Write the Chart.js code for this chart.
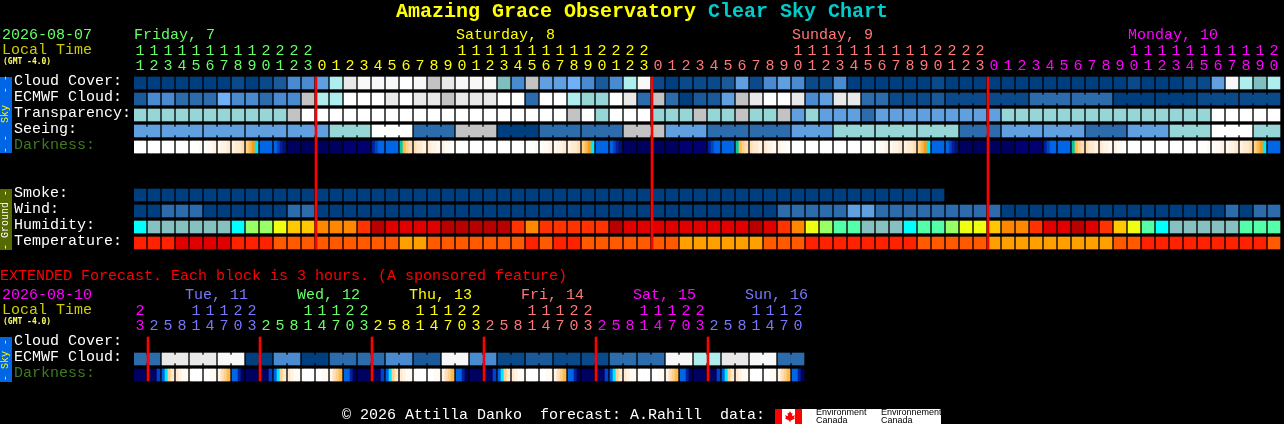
<!DOCTYPE html>
<html>
<head>
<meta charset="utf-8">
<title>Clear Sky Chart</title>
<script src="https://cdn.jsdelivr.net/npm/chart.js@4"></script>
<style>
html, body { margin: 0; background: #000; width: 1284px; height: 424px; overflow: hidden; }
canvas { position: absolute; left: 0; top: 0; }
.t { position: absolute; font: 15px/16px "Liberation Mono", monospace; white-space: pre; color: #fff; }
.tiny { font: bold 8px/9px "DejaVu Sans Mono", monospace; color: #ffff66; }
.title { font: bold 20px/24px "Liberation Mono", monospace; left: 396px; top: 0; color: #ffff00; }
.bar { position: absolute; left: 0; width: 12px; }
.bar span { position: absolute; left: 0; top: 0; width: 12px; height: 100%; text-align: center; writing-mode: vertical-rl;
  transform: rotate(180deg); font: 10px/12px "Liberation Mono", monospace; white-space: pre; }
.logo { position: absolute; left: 775px; top: 409px; width: 166px; height: 15px; background: #fff; overflow: hidden; }
.logo i { position: absolute; top: 0; width: 7px; height: 15px; background: #f00; }
.logo b { position: absolute; left: 10px; top: 2px; width: 10px; height: 11px; background: #f00;
  clip-path: polygon(50% 0, 62% 20%, 75% 15%, 70% 45%, 100% 38%, 90% 60%, 100% 68%, 55% 88%, 55% 100%, 45% 100%, 45% 88%, 0 68%, 10% 60%, 0 38%, 30% 45%, 25% 15%, 38% 20%); }
.logo u { position: absolute; text-decoration: none; top: 0; font: 9px/7.5px "Liberation Sans", sans-serif; color: #000; white-space: pre; }
</style>
</head>
<body>
<canvas id="chart" width="1284" height="424"></canvas>

<div class="t title">Amazing Grace Observatory <span style="color:#00cccc">Clear Sky Chart</span></div>

<div class="t" style="left:2px;top:28px;color:#66ff66">2026-08-07</div>
<div class="t" style="left:2px;top:43px;color:#cccc00">Local Time</div>
<div class="t tiny" style="left:3px;top:57px">(GMT -4.0)</div>
<div class="t" style="left:134px;top:28px;color:#66ff66">Friday, 7</div>
<div class="t" style="left:456px;top:28px;color:#ffff00">Saturday, 8</div>
<div class="t" style="left:792px;top:28px;color:#ff7777">Sunday, 9</div>
<div class="t" style="left:1128px;top:28px;color:#ff00ff">Monday, 10</div>

<div class="bar" style="top:77px;height:76px;background:#0066e6;color:#ffff00"><span>- -  Sky  - -</span></div>
<div class="bar" style="top:189px;height:61px;background:#556b00;color:#fff"><span>- Ground -</span></div>
<div class="bar" style="top:337px;height:45px;background:#0066e6;color:#ffff00"><span>- Sky -</span></div>

<div class="t" style="left:0;top:269px;color:#ff0000">EXTENDED Forecast. Each block is 3 hours. (A sponsored feature)</div>
<div class="t" style="left:2px;top:288px;color:#ff00ff">2026-08-10</div>
<div class="t" style="left:2px;top:303px;color:#cccc00">Local Time</div>
<div class="t tiny" style="left:3px;top:317px">(GMT -4.0)</div>
<div class="t" style="left:185px;top:288px;color:#7777ff">Tue, 11</div>
<div class="t" style="left:297px;top:288px;color:#66ff66">Wed, 12</div>
<div class="t" style="left:409px;top:288px;color:#ffff00">Thu, 13</div>
<div class="t" style="left:521px;top:288px;color:#ff7777">Fri, 14</div>
<div class="t" style="left:633px;top:288px;color:#ff00ff">Sat, 15</div>
<div class="t" style="left:745px;top:288px;color:#7777ff">Sun, 16</div>

<div class="t" style="left:342px;top:408px">© 2026 Attilla Danko  forecast: A.Rahill  data:</div>
<div class="logo">
  <i style="left:0"></i><i style="left:20px"></i><b></b>
  <u style="left:41px">Environment
Canada</u>
  <u style="left:106px">Environnement
Canada</u>
</div>

<script>
// hours along the top, one per block
const hours = [11,12,13,14,15,16,17,18,19,20,21,22,23,
  0,1,2,3,4,5,6,7,8,9,10,11,12,13,14,15,16,17,18,19,20,21,22,23,
  0,1,2,3,4,5,6,7,8,9,10,11,12,13,14,15,16,17,18,19,20,21,22,23,
  0,1,2,3,4,5,6,7,8,9,10,11,12,13,14,15,16,17,18,19,20];
const extHours = [23,
  2,5,8,11,14,17,20,23, 2,5,8,11,14,17,20,23, 2,5,8,11,14,17,20,23,
  2,5,8,11,14,17,20,23, 2,5,8,11,14,17,20,23, 2,5,8,11,14,17,20];
const midnights = [13, 37, 61];
const extMidnights = [1, 9, 17, 25, 33, 41];
const dayColors = ['#66ff66', '#ffff00', '#ff7777', '#ff00ff'];
const extDayColors = ['#ff00ff', '#7777ff', '#66ff66', '#ffff00', '#ff7777', '#ff00ff', '#7777ff'];

// colour levels
const skyColors = ['#003f7f','#0a4a8a','#1a5a9a','#2c6cac','#4a8ad0','#60a0e0','#70b0f8',
  '#80bfbf','#96d6d6','#aeeeee','#c3c3c3','#e9e9e9','#f8f8f8','#ffffff'];
const humidityColors = ['#00ffff','#86c0c0','#55ffaa','#99ff66','#eeff11','#ffc800','#ff8800','#ff3300','#e00000','#b80000'];
const temperatureColors = ['#ffa000','#ff5a00','#ff2200','#e00000'];
const darknessColors = { a:'#ffffff', b:'#fffaf3', c:'#fff3e4', d:'#ffeacf', e:'#ffdfb6', f:'#ffd08c', g:'#ffb84a', h:'#ff9a10',
  k:'#00e8ff', s:'#00c8a0', m:'#0066e6', n:'#0044c4', o:'#002299', p:'#000f70', q:'#000060', r:'#000070' };

const cloudCover = [0,0,0,0,0,0,0,1,0,1, 2,4,4,5,9,11,12,12,12,13, 12,10,11,12,12,12,7,4,10,5,
  5,6,4,2,4,9,12,1,0,1, 1,1,2,5,1,4,5,4,1,1, 4,0,0,0,0,0,0,1,0,0,
  0,0,0,0,0,0,0,0,0,0, 0,1,0,0,0,1,1,5,12,9, 7,9];
const ecmwfCloud = [2,4,4,3,3,3,6,4,4,3, 4,4,10,9,9,13,13,13,11,13, 11,11,10,11,11,11,13,13,3,13,
  13,9,8,8,13,11,3,10,3,0, 2,2,5,10,11,13,13,11,4,5, 11,11,3,3,1,1,1,2,1,1,
  1,1,1,1,3,3,3,3,3,3, 0,0,0,0,0,0,1,1,1,1, 1,1];
const ecmwfBlocks = [1,1,1,1,1,1,1,1,1,1, 1,1,1,1,1,1,1,1,1,1, 1,1,1,1,1,1,1,1,1,1,
  1,1,1,1,1,1,1,1,1,1, 1,1,1,1,1,1,1,1,1,1, 1,1,1,1,1,1,1,1, 3,3,3,3,3,3,3,3];
const transparency = [8,8,8,8,8,8,8,8,8,8, 8,10,13,13,13,13,13,13,13,13, 13,13,13,13,13,13,13,13,13,13,
  13,10,13,8,13,13,13,8,8,8, 10,8,8,10,8,8,10,5,8,5, 5,5,3,5,5,5,5,5,5,5,
  5,5,8,8,8,8,8,8,8,8, 8,8,8,8,8,8,8,13,13,13, 13,13];
const seeing = [5,5,5,5,5,5,5,5,5,5, 5,5,5,5,8,8,8,13,13,13, 3,3,3,10,10,10,0,0,0,3,
  3,3,3,3,3,10,10,10,5,5, 5,3,3,3,3,3,3,5,5,5, 8,8,8,8,8,8,8,8,8,3,
  3,3,5,5,5,5,5,5,3,3, 3,5,5,5,8,8,8,13,13,13, 8,8];
const seeingBlocks = [2,3,3,3,3,3,3,3,3,3,3,3,3,3,3,3,3,3,3,3,3,3,3,3,3,3,3,2];
const darkness = ['aaaa','aaaa','aaaa','aaaa','aaab','abbc','bccd','cdde','fghk','mmmm','mnop','qqqq','qqqq','qqqq','qqqq','rrrr','rrrr',
  'onmm','mmmm','sgfe','eddc','dccb','cbba','aaaa','aaaa','aaaa','aaaa','aaaa','aaab','abbc','bccd','cdde','fghk','mmmm','mnop','qqqq','qqqq','qqqq','qqqq','rrrr','rrrr',
  'onmm','mmmm','sgfe','eddc','dccb','cbba','aaaa','aaaa','aaaa','aaaa','aaaa','aaab','abbc','bccd','cdde','fghk','mmmm','mnop','qqqq','qqqq','qqqq','qqqq','rrrr','rrrr',
  'onmm','mmmm','sgfe','eddc','dccb','cbba','aaaa','aaaa','aaaa','aaaa','aaaa','aaab','abbc','bccd','cdde','fghk','mmmm'];
const smoke = [0,0,0,0,0,0,0,0,0,0, 0,0,0,0,0,0,0,0,0,0, 0,0,0,0,0,0,0,0,0,0,
  0,0,0,0,0,0,0,0,0,0, 0,0,0,0,0,0,0,0,0,0, 0,0,0,0,0,0,0,0];
const wind = [0,0,3,3,3,0,0,0,0,0, 0,3,3,0,0,0,0,0,0,0, 0,0,0,0,0,0,0,0,0,0,
  0,0,0,0,0,0,0,0,0,0, 0,0,0,0,0,0,3,3,3,3, 3,5,5,3,3,3,3,3,3,3,
  3,3,0,0,0,0,0,0,0,0, 0,0,0,0,0,0,0,0,3,0, 3,3];
const humidity = [0,1,1,1,1,1,1,0,3,3, 4,5,5,6,6,6,7,9,8,8, 8,8,9,9,9,9,9,7,6,7,
  7,7,7,7,9,8,8,8,8,8, 8,8,8,8,9,8,7,6,4,3, 2,2,1,1,1,0,2,2,3,4,
  4,5,6,6,7,8,8,9,8,7, 5,4,2,0,1,1,1,1,1,2, 2,2];
const temperature = [2,2,2,3,3,3,3,2,2,2, 1,1,1,1,1,1,1,1,1,0, 0,1,1,1,1,1,1,1,2,1,
  2,2,1,1,1,1,1,1,1,0, 0,0,0,0,0,1,1,1,2,2, 2,2,2,2,2,2,1,1,1,1,
  1,0,0,0,0,0,0,0,0,0, 1,1,2,2,2,2,2,2,2,2, 2,1];

const extCloud = [3,3,11,11,11,11,12,12,0,0,4,4,0,0,3,3,3,3,4,4,2,2,12,12,4,4,1,1,2,2,1,1,1,1,3,3,3,3,12,12,9,9,11,11,12,12,3,3];
const extCloudBlocks = [2,2,2,2,2,2,2,2,2,2,2,2,2,2,2,2,2,2,2,2,2,2,2,2];
const extDarkness = ['qqqq','qqqn','mkfd','dcbb','aaaa','aabb','cefg','mmoq','qqqq','qqqn','mkfd','dcbb','aaaa','aabb','cefg','mmoq',
  'qqqq','qqqn','mkfd','dcbb','aaaa','aabb','cefg','mmoq','qqqq','qqqn','mkfd','dcbb','aaaa','aabb','cefg','mmoq',
  'qqqq','qqqn','mkfd','dcbb','aaaa','aabb','cefg','mmoq','qqqq','qqqn','mkfd','dcbb','aaaa','aabb','cefg','mmoq'];

// y axis unit is one row (16px), a row starts at 77px
const ROW_H = 0.75;
const rowLabels = ['Cloud Cover:','ECMWF Cloud:','Transparency:','Seeing:','Darkness:','Smoke:','Wind:','Humidity:','Temperature:','Cloud Cover:','ECMWF Cloud:','Darkness:'];
const rowTops = [0,1,2,3,4,7,8,9,10,16.25,17.25,18.25];
const CELL = 12, SLICE = 3, PITCH = 14;

function rowSet(values, colors, top) {
  return { data: values.map((v, i) => ({ x: i, y: [top, top + ROW_H] })),
    backgroundColor: values.map(v => colors[v]), barThickness: CELL, grouped: false, order: 2 };
}
// little bridges between blocks of the same forecast period
function joinSet(values, blocks, top) {
  const data = [], colors = [];
  let start = 0;
  blocks.forEach(n => {
    for (let i = start; i < start + n - 1; i++) {
      data.push({ x: i + 0.5, y: [top + 0.125, top + 0.625] });
      colors.push(skyColors[values[i]]);
    }
    start += n;
  });
  return { data, backgroundColor: colors, barThickness: 2, grouped: false, order: 2 };
}
// darkness changes inside a block, so each block is four slices
function darkSet(cells, top) {
  const data = [], colors = [];
  cells.forEach((cell, i) => {
    cell.split('').forEach((c, s) => {
      data.push({ x: i + (s - 1.5) * SLICE / PITCH, y: [top, top + ROW_H] });
      colors.push(darknessColors[c]);
    });
  });
  return { data, backgroundColor: colors, barThickness: SLICE, grouped: false, order: 2 };
}
function midnightSet(cells, top, bottom) {
  return { data: cells.map(c => ({ x: c - 0.5 * CELL / PITCH, y: [top, bottom] })),
    backgroundColor: '#ff0000', barThickness: 2, grouped: false, order: 1 };
}

const datasets = [
  rowSet(cloudCover, skyColors, 0),
  rowSet(ecmwfCloud, skyColors, 1), joinSet(ecmwfCloud, ecmwfBlocks, 1),
  rowSet(transparency, skyColors, 2),
  rowSet(seeing, skyColors, 3), joinSet(seeing, seeingBlocks, 3),
  darkSet(darkness, 4),
  rowSet(smoke, skyColors, 7),
  rowSet(wind, skyColors, 8),
  rowSet(humidity, humidityColors, 9),
  rowSet(temperature, temperatureColors, 10),
  rowSet(extCloud, skyColors, 17.25), joinSet(extCloud, extCloudBlocks, 17.25),
  darkSet(extDarkness, 18.25),
  midnightSet(midnights, 0, 10 + ROW_H),
  midnightSet(extMidnights, 16.25, 19)
];

const X_MIN = -0.5 * CELL / PITCH, X_MAX = (1284 - 140) / PITCH;
const tickFont = { family: '"Liberation Mono", monospace', size: 15, lineHeight: 1 };

function dayColor(i, starts, colors) {
  return colors[starts.filter(m => m <= i).length];
}
function digits(h) {
  return String(h).padStart(2, ' ').split('');
}
function hourAxis(values, starts, colors, yVal) {
  return {
    type: 'linear', min: X_MIN, max: X_MAX, offset: false,
    position: { y: yVal },
    grid: { display: false, drawTicks: false }, border: { display: false },
    afterFit: s => { s.height = 0; s.paddingLeft = 0; s.paddingRight = 0; },
    afterBuildTicks: axis => { axis.ticks = values.map((h, i) => ({ value: i })); },
    ticks: {
      autoSkip: false, maxRotation: 0, minRotation: 0, padding: 0, font: tickFont,
      callback: (v, i) => digits(values[i]),
      color: ctx => dayColor(ctx.index, starts, colors)
    }
  };
}

new Chart(document.getElementById('chart'), {
  type: 'bar',
  data: { datasets },
  options: {
    responsive: false,
    animation: false,
    devicePixelRatio: 1,
    events: [],
    layout: { padding: { left: 14, top: 0, right: 0, bottom: 0 } },
    plugins: { legend: { display: false }, tooltip: { enabled: false } },
    scales: {
      x: hourAxis(hours, midnights, dayColors, -2.094),
      x2: hourAxis(extHours, extMidnights, extDayColors, 14.15),
      y: {
        type: 'linear', reverse: true, min: -77 / 16, max: (424 - 77) / 16,
        position: 'left', beginAtZero: false,
        grid: { display: false, drawTicks: false }, border: { display: false },
        afterFit: s => { s.width = 120; s.paddingTop = 0; s.paddingBottom = 0; },
        afterBuildTicks: axis => { axis.ticks = rowTops.map(t => ({ value: t + 0.28 })); },
        ticks: {
          autoSkip: false, padding: 0, crossAlign: 'far', font: tickFont,
          callback: (v, i) => rowLabels[i],
          color: ctx => rowLabels[ctx.index] === 'Darkness:' ? '#3f7a1f' : '#ffffff'
        }
      }
    }
  }
});
</script>
</body>
</html>
